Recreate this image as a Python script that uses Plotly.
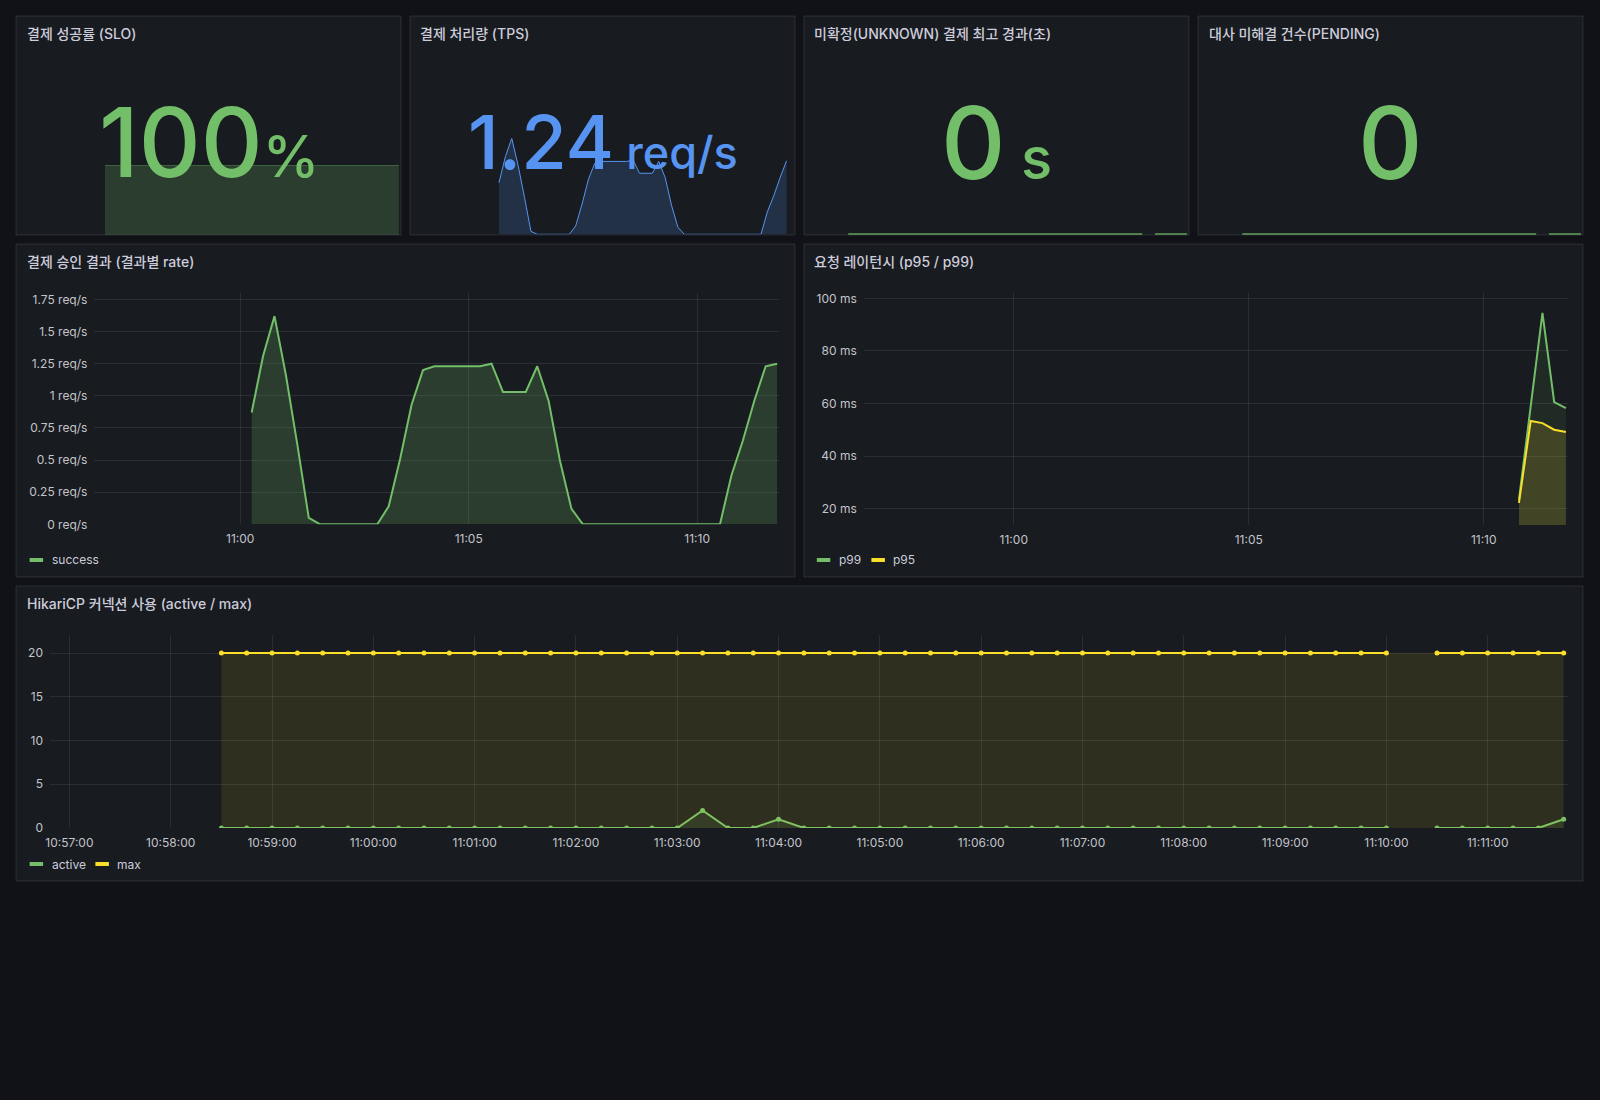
import pandas as pd
import plotly.graph_objects as go

DAY = "2024-01-01 "
X_START = DAY + "10:56:48.5"
X_END = DAY + "11:11:47.5"

# ---------------- data ----------------
# 결제 승인 결과 (success rate, req/s), 15 s steps from 11:00:15
success_start = DAY + "11:00:15"
success_rate = [0.87, 1.31, 1.62, 1.16, 0.62, 0.05, 0, 0, 0, 0, 0, 0,
                0.14, 0.51, 0.93, 1.20, 1.23, 1.23, 1.23, 1.23, 1.23, 1.25, 1.03,
                1.03, 1.03, 1.23, 0.96, 0.49, 0.12,
                0, 0, 0, 0, 0, 0, 0, 0, 0, 0, 0, 0, 0,
                0.38, 0.65, 0.96, 1.23, 1.25]

# 결제 처리량 (TPS) sparkline, req/s, same timeline (last scrape not yet in)
tps_rate = [0.87, 1.31, 1.62, 1.16, 0.62, 0.05, 0, 0, 0, 0, 0, 0,
            0.14, 0.51, 0.93, 1.20, 1.23, 1.23, 1.23, 1.23, 1.23, 1.25, 1.03,
            1.03, 1.03, 1.23, 0.96, 0.49, 0.12,
            0, 0, 0, 0, 0, 0, 0, 0, 0, 0, 0, 0, 0,
            0.38, 0.65, 0.96, 1.24]

# 결제 성공률 (SLO) sparkline, %
slo_pct = [100, 100, 100, 100, 100, 100, 100, 100, 100, 100, 100, 100,
           100, 100, 100, 100, 100, 100, 100, 100, 100, 100, 100, 100,
           100, 100, 100, 100, 100, 100, 100, 100, 100, 100, 100, 100,
           100, 100, 100, 100, 100, 100, 100, 100, 100, 100, 100]

# 요청 레이턴시 (ms)
latency_times = ["11:10:45", "11:11:00", "11:11:15", "11:11:30", "11:11:45"]
p99_ms = [23.5, 59.0, 94.5, 60.6, 58.3]
p95_ms = [22.3, 53.4, 52.6, 50.1, 49.2]

# HikariCP connections, 15 s steps from 10:58:30 (None = missing scrape)
pool_start = DAY + "10:58:30"
active_conn = [0, 0, 0, 0, 0, 0, 0, 0, 0, 0, 0, 0, 0, 0, 0, 0, 0, 0, 0,
               2, 0, 0, 1,
               0, 0, 0, 0, 0, 0, 0, 0, 0, 0, 0, 0, 0, 0, 0, 0, 0, 0, 0, 0, 0, 0, 0, 0,
               None,
               0, 0, 0, 0, 0, 1]
max_conn = [20, 20, 20, 20, 20, 20, 20, 20, 20, 20, 20, 20, 20, 20, 20, 20, 20, 20, 20,
            20, 20, 20, 20,
            20, 20, 20, 20, 20, 20, 20, 20, 20, 20, 20, 20, 20, 20, 20, 20, 20, 20, 20, 20, 20, 20, 20, 20,
            None,
            20, 20, 20, 20, 20, 20]

# stat sparklines for UNKNOWN age / PENDING count (same scrape timeline)
unknown_age_s = [0, 0, 0, 0, 0, 0, 0, 0, 0, 0, 0, 0, 0, 0, 0, 0, 0, 0, 0,
                 0, 0, 0, 0,
                 0, 0, 0, 0, 0, 0, 0, 0, 0, 0, 0, 0, 0, 0, 0, 0, 0, 0, 0, 0, 0, 0, 0, 0,
                 None,
                 0, 0, 0, 0, 0, 0]
pending_count = [0, 0, 0, 0, 0, 0, 0, 0, 0, 0, 0, 0, 0, 0, 0, 0, 0, 0, 0,
                 0, 0, 0, 0,
                 0, 0, 0, 0, 0, 0, 0, 0, 0, 0, 0, 0, 0, 0, 0, 0, 0, 0, 0, 0, 0, 0, 0, 0,
                 None,
                 0, 0, 0, 0, 0, 0]

panel_titles = ["결제 성공률 (SLO)", "결제 처리량 (TPS)", "미확정(UNKNOWN) 결제 최고 경과(초)",
                "대사 미해결 건수(PENDING)", "결제 승인 결과 (결과별 rate)",
                "요청 레이턴시 (p95 / p99)", "HikariCP 커넥션 사용 (active / max)"]
stat_values = ["100", "1.24", "0", "0"]
stat_units = ["%", "req/s", "s", ""]

success_times = pd.date_range(success_start, periods=len(success_rate), freq="15s")
tps_times = pd.date_range(success_start, periods=len(tps_rate), freq="15s")
pool_times = pd.date_range(pool_start, periods=len(max_conn), freq="15s")
lat_times = [DAY + t for t in latency_times]

# ---------------- styling ----------------
W, H = 1600, 1100
BG = "#111217"
PANEL = "#181b1f"
BORDER = "rgba(204,204,220,0.13)"
GRID = "rgba(204,204,220,0.10)"
TXT = "#ccccdc"
TICK = "#c3c4cc"
GREEN = "#73BF69"
YELLOW = "#FADE2A"
BLUE = "#5794F2"
FONT = "Inter, 'Noto Sans CJK KR', sans-serif"


def fx(x):
    return x / W


def fy(y):
    return 1 - y / H


panels = [(16, 16, 401, 235), (410, 16, 795, 235), (804, 16, 1189, 235), (1198, 16, 1583, 235),
          (16, 244, 795, 577), (804, 244, 1583, 577), (16, 586, 1583, 881)]

fig = go.Figure()

# main time series
fig.add_trace(go.Scatter(x=success_times, y=success_rate, xaxis="x", yaxis="y", mode="lines",
                         line=dict(color=GREEN, width=2), fill="tozeroy",
                         fillcolor="rgba(115,191,105,0.21)", name="success", showlegend=False))
fig.add_trace(go.Scatter(x=lat_times, y=p99_ms, xaxis="x2", yaxis="y2", mode="lines",
                         line=dict(color=GREEN, width=2), fill="tozeroy",
                         fillcolor="rgba(115,191,105,0.10)", name="p99", showlegend=False))
fig.add_trace(go.Scatter(x=lat_times, y=p95_ms, xaxis="x2", yaxis="y2", mode="lines",
                         line=dict(color=YELLOW, width=2), fill="tozeroy",
                         fillcolor="rgba(250,222,42,0.15)", name="p95", showlegend=False))
fig.add_trace(go.Scatter(x=pool_times, y=active_conn, xaxis="x3", yaxis="y3", mode="lines+markers",
                         line=dict(color=GREEN, width=2), marker=dict(size=5, color=GREEN),
                         fill="tozeroy", fillcolor="rgba(115,191,105,0.10)", connectgaps=False,
                         name="active", showlegend=False))
fig.add_trace(go.Scatter(x=pool_times, y=max_conn, xaxis="x3", yaxis="y3", mode="lines+markers",
                         line=dict(color=YELLOW, width=2), marker=dict(size=5, color=YELLOW),
                         fill="tozeroy", fillcolor="rgba(250,222,42,0.10)", connectgaps=False,
                         name="max", showlegend=False))

# stat sparklines
fig.add_trace(go.Scatter(x=success_times, y=slo_pct, xaxis="x4", yaxis="y4", mode="lines",
                         line=dict(color="rgba(115,191,105,0.55)", width=1), fill="tozeroy",
                         fillcolor="rgba(115,191,105,0.21)", showlegend=False, hoverinfo="skip"))
fig.add_trace(go.Scatter(x=tps_times, y=tps_rate, xaxis="x5", yaxis="y5", mode="lines",
                         line=dict(color=BLUE, width=1), fill="tozeroy",
                         fillcolor="rgba(87,148,242,0.19)", showlegend=False, hoverinfo="skip"))
fig.add_trace(go.Scatter(x=pool_times, y=unknown_age_s, xaxis="x6", yaxis="y6", mode="lines",
                         line=dict(color="rgba(115,191,105,0.8)", width=1.5), connectgaps=False,
                         showlegend=False, hoverinfo="skip"))
fig.add_trace(go.Scatter(x=pool_times, y=pending_count, xaxis="x7", yaxis="y7", mode="lines",
                         line=dict(color="rgba(115,191,105,0.8)", width=1.5), connectgaps=False,
                         showlegend=False, hoverinfo="skip"))

tickfont = dict(family=FONT, size=12, color=TICK)


def time_axis(domain, tick0, dtick, fmt, anchor):
    return dict(type="date", domain=domain, range=[X_START, X_END], anchor=anchor,
                tickmode="linear", tick0=tick0, dtick=dtick, tickformat=fmt,
                showgrid=True, gridcolor=GRID, gridwidth=1, zeroline=False, showline=False,
                ticks="", tickfont=tickfont, ticklabelstandoff=6, fixedrange=True,
                automargin=False)


def val_axis(domain, rng, dtick, suffix, anchor):
    return dict(domain=domain, range=rng, anchor=anchor, tickmode="linear", tick0=0, dtick=dtick,
                ticksuffix=suffix, showgrid=True, gridcolor=GRID, gridwidth=1, zeroline=False,
                showline=False, ticks="", tickfont=tickfont, ticklabelstandoff=6, fixedrange=True,
                automargin=False)


def hidden(domain, rng=None, anchor=None, date=False):
    d = dict(domain=domain, visible=False, showgrid=False, zeroline=False, fixedrange=True,
             automargin=False)
    if rng is not None:
        d["range"] = rng
    if anchor:
        d["anchor"] = anchor
    if date:
        d["type"] = "date"
    return d


spark_max = max(tps_rate)
layout = dict(
    width=W, height=H, autosize=False,
    margin=dict(l=0, r=0, t=0, b=0, pad=0, autoexpand=False),
    paper_bgcolor=BG, plot_bgcolor="rgba(0,0,0,0)", showlegend=False,
    font=dict(family=FONT, color=TXT),
    xaxis=time_axis([fx(94.4), fx(779)], DAY + "11:00", 300000, "%H:%M", "y"),
    yaxis=val_axis([fy(524.3), fy(293)], [0, 1.8], 0.25, " req/s", "x"),
    xaxis2=time_axis([fx(863.8), fx(1567.9)], DAY + "11:00", 300000, "%H:%M", "y2"),
    yaxis2=val_axis([fy(525), fy(293.3)], [13.9, 101.9], 20, " ms", "x2"),
    xaxis3=time_axis([fx(50), fx(1567.9)], DAY + "10:57", 60000, "%H:%M:%S", "y3"),
    yaxis3=val_axis([fy(828), fy(635)], [0, 22.06], 5, "", "x3"),
    xaxis4=hidden([fx(17), fx(400)], [X_START, X_END], "y4", True),
    yaxis4=hidden([fy(235), fy(165)], [0, 100], "x4"),
    xaxis5=hidden([fx(411), fx(794)], [X_START, X_END], "y5", True),
    yaxis5=hidden([fy(234.3), fy(138.3)], [0, spark_max], "x5"),
    xaxis6=hidden([fx(805), fx(1188)], [X_START, X_END], "y6", True),
    yaxis6=hidden([fy(235), fy(200)], [-0.03, 1], "x6"),
    xaxis7=hidden([fx(1199), fx(1582)], [X_START, X_END], "y7", True),
    yaxis7=hidden([fy(235), fy(200)], [-0.03, 1], "x7"),
)
fig.update_layout(**layout)

shapes = []
for (x0, y0, x1, y1) in panels:
    shapes.append(dict(type="rect", xref="paper", yref="paper", x0=fx(x0), x1=fx(x1),
                       y0=fy(y1), y1=fy(y0), fillcolor=PANEL,
                       line=dict(color=BORDER, width=1), layer="below"))

annotations = []
title_pos = [(24.5, 33), (418.5, 33), (812, 33), (1206.5, 33), (24.5, 261.5), (812, 261.5), (24.5, 603)]
for t, (x, y) in zip(panel_titles, title_pos):
    annotations.append(dict(text=t, xref="paper", yref="paper", x=fx(x), y=fy(y),
                            xanchor="left", yanchor="middle", showarrow=False,
                            font=dict(family=FONT, size=14, color=TXT, weight=500)))

# (center x, center y, value font, unit font, colour, separator)
stat_cfg = [(208.5, 142, 96, 57, GREEN, ""), (602.5, 141.5, 74, 45, BLUE, " "),
            (996.5, 142, 100, 58, GREEN, " "), (1390.5, 142, 100, 58, GREEN, "")]
for v, u, (cx, cy, fs, us, col, sep) in zip(stat_values, stat_units, stat_cfg):
    txt = f"{v}<span style='font-size:{us}px'>{sep}{u}</span>" if u else v
    annotations.append(dict(text=txt, xref="paper", yref="paper", x=fx(cx), y=fy(cy),
                            xanchor="center", yanchor="middle", showarrow=False,
                            font=dict(family=FONT, size=fs, color=col, weight=500)))

legend_items = [(29.6, 560, GREEN, "success"),
                (816.8, 560, GREEN, "p99"), (871.4, 560, YELLOW, "p95"),
                (29.6, 864, GREEN, "active"), (95.4, 864, YELLOW, "max")]
for x, y, col, label in legend_items:
    shapes.append(dict(type="rect", xref="paper", yref="paper", x0=fx(x), x1=fx(x + 13.5),
                       y0=fy(y + 2), y1=fy(y - 2), fillcolor=col, line=dict(width=0)))
    annotations.append(dict(text=label, xref="paper", yref="paper", x=fx(x + 20), y=fy(y),
                            xanchor="left", yanchor="middle", showarrow=False,
                            font=dict(family=FONT, size=12, color=TXT)))

fig.update_layout(shapes=shapes, annotations=annotations)
fig.write_html("out.html")
